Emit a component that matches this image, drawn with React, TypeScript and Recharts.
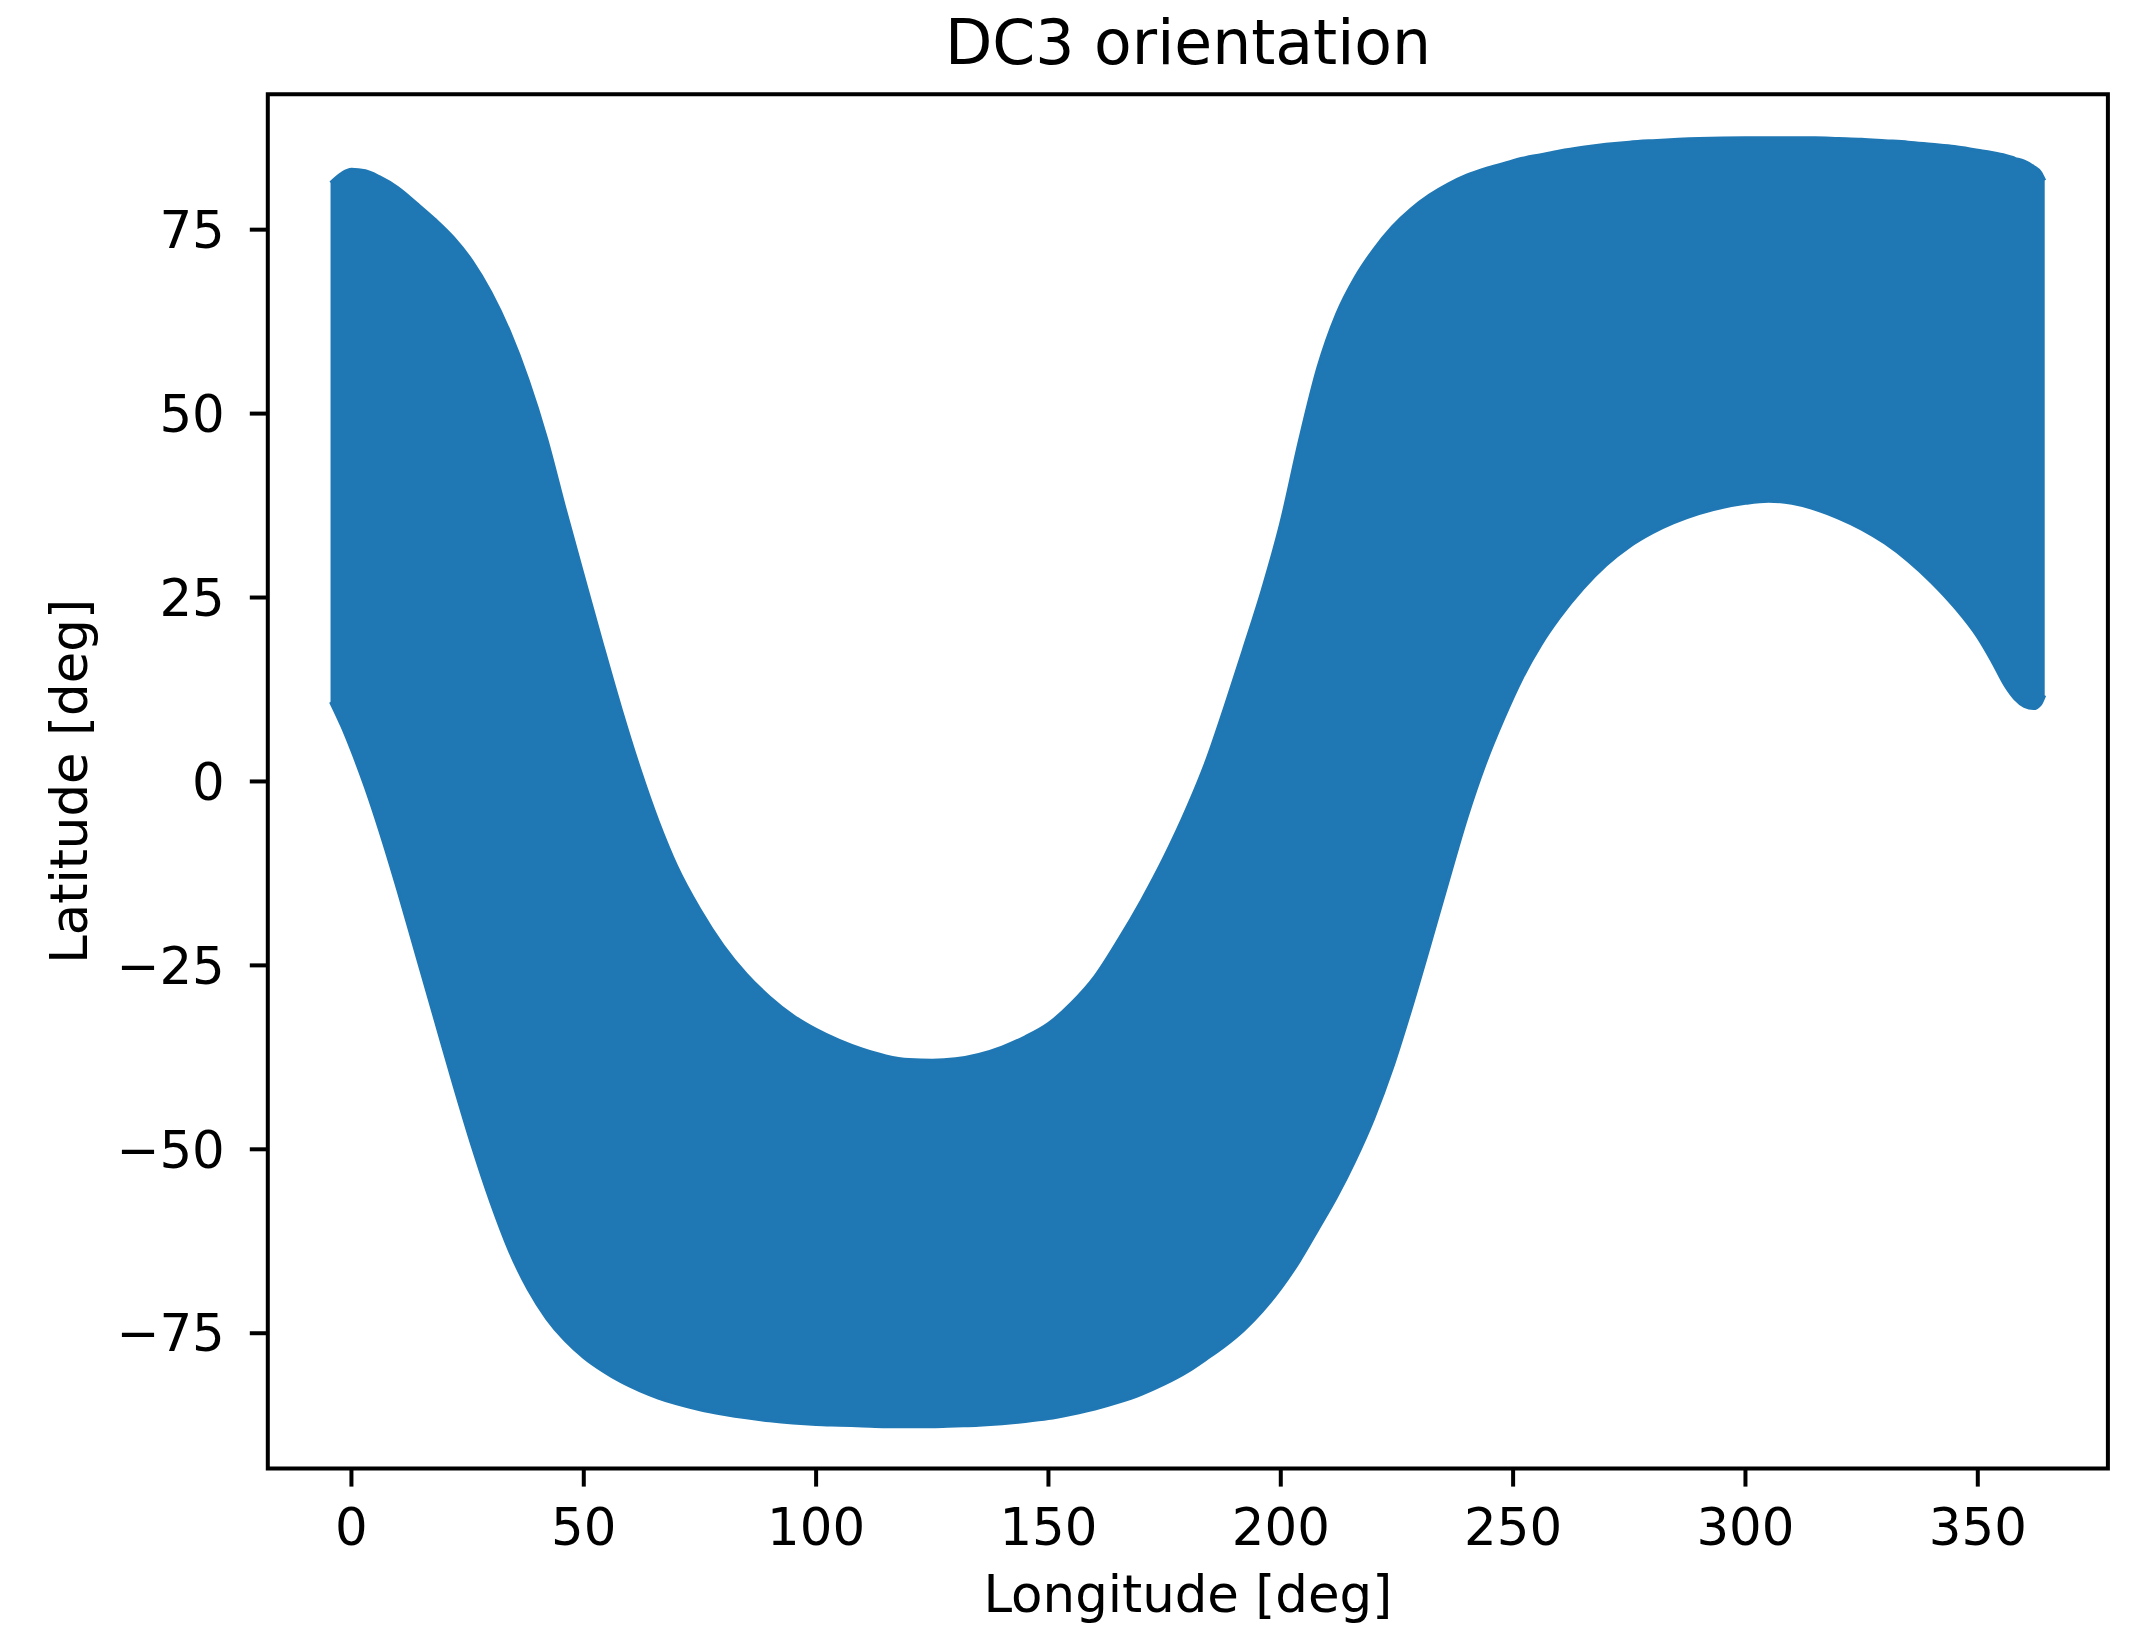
import React from 'react';
import { ComposedChart, Area, XAxis, YAxis, ReferenceArea } from 'recharts';

// Longitude samples [deg] along the band
const longitudes = [
  -4.5, -2, 0, 3, 6, 10, 14, 18, 22, 26,
  30, 34, 38, 42, 46, 50, 54, 58, 62, 66,
  70, 75, 80, 85, 90, 95, 100, 105, 110, 115,
  120, 125, 130, 135, 140, 145, 150, 155, 160, 165,
  170, 175, 180, 184, 188, 192, 196, 200, 204, 208,
  212, 216, 220, 224, 228, 232, 236, 240, 244, 248,
  252, 256, 260, 265, 270, 275, 280, 290, 300, 305,
  310, 315, 320, 325, 330, 335, 340, 345, 350, 353,
  356, 358, 360, 362, 363.5, 364.4,
];

// Upper edge of the orientation band [deg]
const upperLat = [
  81.4, 82.7, 83.2, 83.0, 82.2, 80.7, 78.6, 76.4, 73.9, 70.7,
  66.5, 61.2, 54.6, 46.6, 37.0, 27.8, 18.7, 9.9, 1.8, -5.4,
  -11.5, -17.4, -22.3, -26.2, -29.3, -31.8, -33.7, -35.2, -36.4, -37.3,
  -37.8, -37.9, -37.7, -37.1, -36.1, -34.7, -32.9, -30.1, -26.5, -21.6,
  -16.2, -10.2, -3.4, 2.8, 10.2, 18.0, 26.0, 35.1, 46.3, 56.3,
  63.5, 68.5, 72.3, 75.4, 77.8, 79.7, 81.2, 82.4, 83.3, 84.0,
  84.7, 85.2, 85.7, 86.2, 86.6, 86.9, 87.1, 87.4, 87.5, 87.5,
  87.5, 87.5, 87.4, 87.3, 87.1, 86.9, 86.6, 86.3, 85.8, 85.5,
  85.1, 84.7, 84.3, 83.6, 82.8, 81.7,
];

// Lower edge of the orientation band [deg]
const lowerLat = [
  10.8, 7.4, 4.3, -0.8, -6.5, -14.8, -23.6, -32.4, -41.2, -49.6,
  -57.2, -63.8, -69.0, -73.0, -76.0, -78.3, -80.1, -81.6, -82.8, -83.8,
  -84.6, -85.4, -86.0, -86.5, -86.9, -87.2, -87.4, -87.5, -87.6, -87.7,
  -87.7, -87.7, -87.6, -87.5, -87.3, -87.0, -86.6, -86.0, -85.3, -84.4,
  -83.3, -81.9, -80.2, -78.5, -76.7, -74.6, -72.0, -68.9, -65.2, -60.9,
  -56.5, -51.5, -45.8, -39.0, -31.0, -22.4, -13.6, -5.0, 2.4, 8.6,
  14.1, 18.6, 22.3, 26.2, 29.4, 31.9, 33.8, 36.4, 37.8, 38.1,
  37.8, 37.0, 35.8, 34.3, 32.4, 30.0, 27.1, 23.7, 19.6, 16.4,
  12.9, 11.2, 10.2, 9.9, 10.5, 11.7,
];

const xTicks = [0, 50, 100, 150, 200, 250, 300, 350];
const yTicks = [-75, -50, -25, 0, 25, 50, 75];

const X_DOMAIN: [number, number] = [-18, 378];
const Y_DOMAIN: [number, number] = [-93.4, 93.4];

const data = longitudes.map((lon, i) => ({ lon, band: [lowerLat[i], upperLat[i]] }));

const FONT = '"DejaVu Sans", "Liberation Sans", sans-serif';
const BLUE = '#1f77b4';

const fmt = (v: number) => String(v).replace('-', '\u2212');

const XLabel = (props: any) => {
  const vb = props.viewBox || { x: 268, y: 1468.6, width: 1840, height: 158.4 };
  return (
    <text x={vb.x + vb.width / 2} y={vb.y + 143.5} textAnchor="middle" fontFamily={FONT} fontSize={51.4} fill="#000">
      Longitude [deg]
    </text>
  );
};

const YLabel = (props: any) => {
  const vb = props.viewBox || { x: 0, y: 94.3, width: 267.8, height: 1374.3 };
  const cy = vb.y + vb.height / 2;
  const x = 87;
  return (
    <text x={x} y={cy} transform={`rotate(-90 ${x} ${cy})`} textAnchor="middle" fontFamily={FONT} fontSize={51.4} fill="#000">
      Latitude [deg]
    </text>
  );
};

export default function App() {
  return (
    <div style={{ position: 'absolute', left: 0, top: 0, width: 2142, height: 1627, background: '#fff' }}>
      <svg width={2142} height={120} style={{ position: 'absolute', left: 0, top: 0 }}>
        <text x={1188} y={64} textAnchor="middle" fontFamily={FONT} fontSize={61.6} fill="#000">
          DC3 orientation
        </text>
      </svg>
      <div style={{ position: 'absolute', left: 0, top: 0 }}>
        <ComposedChart
          width={2142}
          height={1627}
          data={data}
          margin={{ top: 94.3, right: 34.1, bottom: 0, left: 0 }}
        >
          <XAxis
            type="number"
            dataKey="lon"
            domain={X_DOMAIN}
            allowDataOverflow
            ticks={xTicks}
            interval={0}
            height={158.4}
            tickSize={18}
            tickMargin={22}
            axisLine={false}
            tickLine={{ stroke: '#000', strokeWidth: 4 }}
            tick={{ fontSize: 51.4, fill: '#000', fontFamily: FONT }}
            tickFormatter={fmt}
            label={{ content: XLabel }}
          />
          <YAxis
            type="number"
            domain={Y_DOMAIN}
            allowDataOverflow
            ticks={yTicks}
            interval={0}
            width={267.8}
            tickSize={18}
            tickMargin={25}
            axisLine={false}
            tickLine={{ stroke: '#000', strokeWidth: 4 }}
            tick={{ fontSize: 51.4, fill: '#000', fontFamily: FONT }}
            tickFormatter={fmt}
            label={{ content: YLabel }}
          />
          <Area
            type="monotone"
            dataKey="band"
            fill={BLUE}
            fillOpacity={1}
            stroke={BLUE}
            strokeWidth={3}
            dot={false}
            activeDot={false}
            isAnimationActive={false}
          />
          <ReferenceArea
            x1={X_DOMAIN[0]}
            x2={X_DOMAIN[1]}
            y1={Y_DOMAIN[0]}
            y2={Y_DOMAIN[1]}
            fill="none"
            fillOpacity={0}
            stroke="#000"
            strokeWidth={4}
            ifOverflow="visible"
          />
        </ComposedChart>
      </div>
    </div>
  );
}
